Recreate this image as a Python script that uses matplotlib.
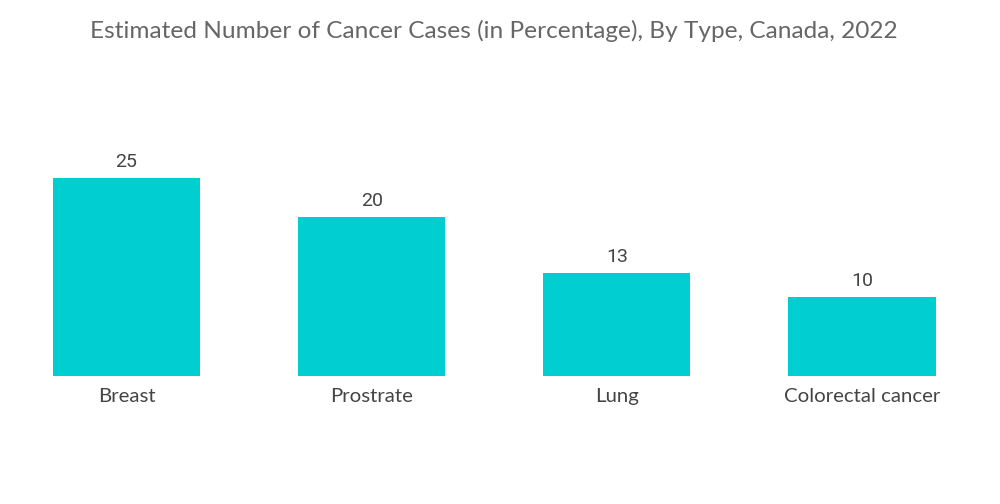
import matplotlib.pyplot as plt

categories = ["Breast", "Prostrate", "Lung", "Colorectal cancer"]
values = [25, 20, 13, 10]

title = "Estimated Number of Cancer Cases (in Percentage), By Type, Canada, 2022"

fig = plt.figure(figsize=(10, 5.04), dpi=100)
ax = fig.add_axes([0, 0.254, 1, 0.472])

x = list(range(len(categories)))
bars = ax.bar(x, values, width=0.6, color="#00CED1")

ax.set_xlim(-0.516, 3.563)
ax.set_ylim(0, 30)

for b, v in zip(bars, values):
    ax.text(b.get_x() + b.get_width() / 2, v + 0.9, str(v), ha="center", va="bottom",
            fontsize=14, family="Roboto", color="#444444")

ax.set_xticks(x)
ax.set_xticklabels(categories, fontsize=14.7, family="Lato", color="#444444")
ax.tick_params(axis="x", length=0, pad=9)
ax.set_yticks([])
for s in ax.spines.values():
    s.set_visible(False)

fig.text(0.494, 0.938, title, ha="center", va="center", fontsize=17.6, family="Lato",
         color="#666666")

plt.savefig("out.png")
